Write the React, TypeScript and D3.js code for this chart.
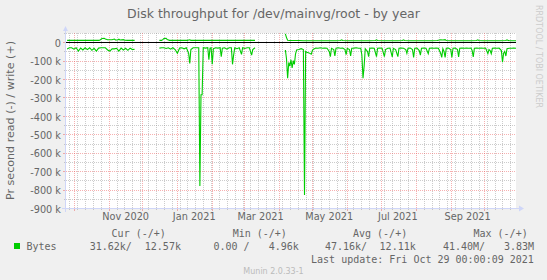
import React from "react";
import * as d3 from "d3";

const DAY = 86400000;
const START = Date.UTC(2020, 8, 24, 0, 0, 9);
const END = Date.UTC(2021, 9, 29, 0, 0, 9);

const TITLE = "Disk throughput for /dev/mainvg/root - by year";
const Y_TITLE = "Pr second read (-) / write (+)";
const Y_MIN = -900000;
const Y_MAX = 50000;
const Y_LABEL_STEP = 100000;
const Y_MINOR_STEP = 50000;
const X_LABEL_MONTHS: [number, number][] = [
  [2020, 10], [2021, 0], [2021, 2], [2021, 4], [2021, 6], [2021, 8],
];

// [day offset from START, read kB/s (drawn negative)] ; null = no data
const readSeries: [number, number | null][] = [
  [1,37],[3,30],[5,30],[7,38],[9,30],[11,48],[13,32],[15,42],[17,30],[19,40],[21,30],[23,44],[25,33],[27,48],[29,32],[31,30],[33,30],[35,30],[37,42],[39,48],[41,36],[43,36],[45,33],[47,48],[49,32],[51,42],[53,33],[55,44],[57,32],[59,40],[61,38],[72,null],
  [83,32],[85,30],[87,30],[89,34],[91,30],[93,38],[95,30],[97,40],[99,60],[101,32],[103,30],[105,36],[107,30],[109,60],[110,115],[111,40],[113,30],[115,30],[117,30],[118,30],[119,780],[120,285],[121,285],[122,30],[124,32],[126,30],[127,95],[128,32],[129,30],[130,120],[131,35],[133,30],[135,32],[137,30],[138,79],[139,32],[141,30],[143,38],[145,30],[147,30],[148,120],[149,70],[150,30],[152,35],[154,30],[156,66],[157,30],[159,34],[161,30],[163,30],[165,70],[166,40],[168,30],[181,null],
  [195,42],[196,90],[197,196],[198,110],[199,130],[200,95],[201,140],[202,100],[203,120],[204,65],[205,42],[207,40],[209,35],[211,40],[212,830],[213,50],[214,55],[216,58],[218,65],[219,45],[220,38],[222,32],[224,33],[226,30],[228,33],[230,32],[232,33],[234,50],[235,78],[236,33],[238,40],[239,75],[240,33],[242,30],[244,33],[246,32],[248,40],[249,68],[250,33],[252,40],[253,75],[254,33],[256,32],[258,30],[260,33],[262,33],[263,70],[264,196],[265,130],[266,35],[268,50],[269,78],[270,33],[272,32],[274,33],[276,78],[277,33],[279,32],[281,33],[283,78],[284,40],[286,33],[288,32],[290,80],[291,33],[293,40],[295,78],[296,33],[298,32],[300,33],[302,40],[303,60],[304,33],[306,32],[308,40],[309,82],[310,33],[312,32],[314,45],[315,70],[316,33],[318,32],[320,33],[322,62],[323,33],[325,32],[327,33],[329,32],[331,33],[333,60],[334,82],[335,35],[336,50],[337,82],[338,33],[340,32],[342,40],[343,82],[344,33],[346,32],[348,40],[349,80],[350,33],[352,32],[354,33],[356,32],[358,33],[360,32],[361,45],[362,80],[363,33],[365,32],[367,33],[369,32],[371,33],[373,32],[375,62],[376,40],[377,45],[378,62],[379,33],[381,32],[383,33],[385,32],[387,45],[388,109],[389,60],[390,50],[391,75],[392,35],[394,33],[396,33],[398,32],[400,33],
];

// [day offset from START, write kB/s]
const writeSeries: [number, number | null][] = [
  [1,10],[5,10],[9,10],[13,10],[17,10],[21,10],[25,10],[29,10],[30,11],[32,20],[34,21],[35,17],[37,13],[39,13],[41,13],[43,17],[44,12],[46,12],[47,16],[48,12],[51,14],[52,11],[55,10],[58,10],[61,10],[72,null],
  [83,10],[85,10],[86,14],[87,20],[89,21],[90,14],[92,10],[96,10],[100,10],[104,10],[108,10],[110,13],[111,10],[115,10],[120,10],[125,10],[130,10],[135,10],[140,10],[145,10],[150,10],[155,10],[160,10],[164,10],[168,10],[181,null],
  [195,45],[196,25],[197,11],[199,9],[203,9],[207,9],[211,8],[215,8],[220,8],[225,8],[230,8],[235,8],[240,8],[244,9],[245,13],[246,9],[250,8],[255,8],[260,8],[265,8],[270,8],[275,9],[276,13],[277,9],[281,8],[285,8],[290,8],[295,8],[299,9],[300,13],[301,9],[305,8],[310,8],[315,8],[320,8],[325,8],[330,9],[333,13],[335,12],[337,14],[338,9],[342,8],[346,8],[350,8],[355,8],[360,8],[365,9],[366,13],[367,9],[371,8],[375,8],[380,8],[385,8],[391,9],[392,13],[393,9],[396,8],[400,8],
];

const LEGEND_HEAD = ["Cur (-/+)", "Min (-/+)", "Avg (-/+)", "Max (-/+)"];
const LEGEND_NAME = "Bytes";
const LEGEND_VALUES = [
  ["31.62k/", "12.57k"],
  ["0.00 /", "4.96k"],
  ["47.16k/", "12.11k"],
  ["41.40M/", "3.83M"],
];
const LAST_UPDATE = "Last update: Fri Oct 29 00:00:09 2021";
const WATERMARK = "Munin 2.0.33-1";
const SIGN = "RRDTOOL / TOBI OETIKER";

const W = 547, H = 280;
const PL = 66, PR = 516, PT = 33, PB = 208;
const SANS = "'DejaVu Sans', sans-serif";
const MONO = "'DejaVu Sans Mono', monospace";
const FONT_COL = "#666666";
const LINE_COL = "#00CC00";
const GRID = "rgba(143,143,143,0.45)";
const MGRID = "rgba(235,80,80,0.45)";
const AXIS = "#CFD6F8";

export default function App() {
  const x = d3.scaleUtc().domain([new Date(START), new Date(END)]).range([PL, PR]);
  const y = d3.scaleLinear().domain([Y_MIN, Y_MAX]).range([PB, PT]);
  const px = (v: number) => Math.round(v) + 0.5;

  const majorT = d3.utcMonth.range(new Date(START), new Date(END));
  const majorSet = new Set(majorT.map((d) => d.getTime()));
  const minorT = d3.utcSunday
    .range(new Date(START), new Date(END))
    .filter((d) => !majorSet.has(d.getTime()));

  const hMinor: number[] = [];
  for (let v = Y_MIN; v <= Y_MAX; v += Y_MINOR_STEP) if (v % Y_LABEL_STEP !== 0) hMinor.push(v);
  const hMajor: number[] = [];
  for (let v = Y_MIN; v <= Y_MAX; v += Y_LABEL_STEP) hMajor.push(v);

  const fmtY = (v: number) => (v === 0 ? "0" : `${v / 1000} k`);
  const fmtX = d3.utcFormat("%b %Y");

  const line = d3
    .line<[number, number | null]>()
    .defined((d) => d[1] != null)
    .x((d) => x(new Date(START + d[0] * DAY)))
    .y((d) => y(d[1] as number));

  const readPts = readSeries.map((d) => [d[0], d[1] == null ? null : -d[1] * 1000] as [number, number | null]);
  const writePts = writeSeries.map((d) => [d[0], d[1] == null ? null : d[1] * 1000] as [number, number | null]);

  const legendX = [111.6, 232.7, 353, 473.5];
  const valX = [[89.7, 144.8], [213.5, 268.7], [325, 379.6], [443, 504]];

  return (
    <svg width={W} height={H} style={{ position: "absolute", left: 0, top: 0 }} xmlns="http://www.w3.org/2000/svg">
      <rect x={0} y={0} width={W} height={H} fill="#F0F0F0" />
      <rect x={PL} y={PT} width={PR - PL} height={PB - PT} fill="#FFFFFF" />
      <text x={W / 2} y={17.5} textAnchor="middle" fontFamily={SANS} fontSize={12.5} fill={FONT_COL}>{TITLE}</text>
      <text transform={`translate(14,${(PT + PB) / 2}) rotate(-90)`} textAnchor="middle" fontFamily={SANS} fontSize={11.1} fill={FONT_COL}>{Y_TITLE}</text>
      <text transform={`translate(536,5) rotate(90)`} fontFamily={SANS} fontSize={8} fill="#cccccc">{SIGN}</text>

      {/* minor grid */}
      {minorT.map((d, i) => (
        <g key={`vm${i}`} stroke={GRID} strokeWidth={1}>
          <line x1={px(x(d))} x2={px(x(d))} y1={PT} y2={PB} strokeDasharray="1,1" />
          <line x1={px(x(d))} x2={px(x(d))} y1={PB} y2={PB + 2} />
        </g>
      ))}
      {hMinor.map((v, i) => (
        <g key={`hm${i}`} stroke={GRID} strokeWidth={1}>
          <line x1={PL} x2={PR} y1={px(y(v))} y2={px(y(v))} strokeDasharray="1,1" />
          <line x1={PL - 2} x2={PL} y1={px(y(v))} y2={px(y(v))} />
        </g>
      ))}
      {/* major grid */}
      {majorT.map((d, i) => (
        <g key={`vM${i}`} stroke={MGRID} strokeWidth={1}>
          <line x1={px(x(d))} x2={px(x(d))} y1={PT} y2={PB} strokeDasharray="1,1" />
          <line x1={px(x(d))} x2={px(x(d))} y1={PB} y2={PB + 3} />
        </g>
      ))}
      {hMajor.map((v, i) => (
        <g key={`hM${i}`} stroke={MGRID} strokeWidth={1}>
          <line x1={PL} x2={PR} y1={px(y(v))} y2={px(y(v))} strokeDasharray="1,1" />
          <line x1={PL - 3} x2={PL} y1={px(y(v))} y2={px(y(v))} />
        </g>
      ))}

      {/* y labels */}
      {hMajor.filter((v) => v <= 0).map((v, i) => (
        <text key={`yl${i}`} x={61} y={y(v) + 4.7} textAnchor="end" fontFamily={SANS} fontSize={9.72} fill={FONT_COL}>{fmtY(v)}</text>
      ))}
      {/* x labels */}
      {X_LABEL_MONTHS.map(([yy, mm], i) => {
        const t = new Date(Date.UTC(yy, mm, 1));
        const tl = new Date(t.getTime() + 15 * DAY);
        return (
          <text key={`xl${i}`} x={x(tl)} y={219.5} textAnchor="middle" fontFamily={SANS} fontSize={9.72} fill={FONT_COL}>{fmtX(t)}</text>
        );
      })}

      {/* data */}
      <path d={line(writePts) || ""} fill="none" stroke={LINE_COL} strokeWidth={1.1} />
      <path d={line(readPts) || ""} fill="none" stroke={LINE_COL} strokeWidth={1.1} />
      <line x1={PL} x2={PR} y1={px(y(0))} y2={px(y(0))} stroke="#000" strokeWidth={1} />

      {/* axes */}
      <line x1={PL - 4} x2={PR + 3} y1={px(PB)} y2={px(PB)} stroke={AXIS} />
      <line x1={px(PL - 1)} x2={px(PL - 1)} y1={PB + 4} y2={PT - 3} stroke={AXIS} />
      <path d={`M${PR + 3},${PB - 2.5} L${PR + 8},${PB + 0.5} L${PR + 3},${PB + 3.5} Z`} fill={AXIS} />
      <path d={`M${PL - 3},${PT - 2} L${PL - 0.5},${PT - 7} L${PL + 2},${PT - 2} Z`} fill={AXIS} />

      {/* legend */}
      {LEGEND_HEAD.map((s, i) => (
        <text key={`lh${i}`} x={legendX[i]} y={237.3} fontFamily={MONO} fontSize={10} fill={FONT_COL}>{s}</text>
      ))}
      <rect x={14} y={243} width={6} height={6} fill={LINE_COL} />
      <text x={26.5} y={250.2} fontFamily={MONO} fontSize={10} fill={FONT_COL}>{LEGEND_NAME}</text>
      {LEGEND_VALUES.map((pair, i) =>
        pair.map((s, j) => (
          <text key={`lv${i}${j}`} x={valX[i][j]} y={250.2} fontFamily={MONO} fontSize={10} fill={FONT_COL}>{s}</text>
        ))
      )}
      <text x={533.8} y={262.8} textAnchor="end" fontFamily={MONO} fontSize={10} fill={FONT_COL}>{LAST_UPDATE}</text>
      <text x={273.5} y={274} textAnchor="middle" fontFamily={SANS} fontSize={8} fill="#bbbbbb">{WATERMARK}</text>
    </svg>
  );
}
